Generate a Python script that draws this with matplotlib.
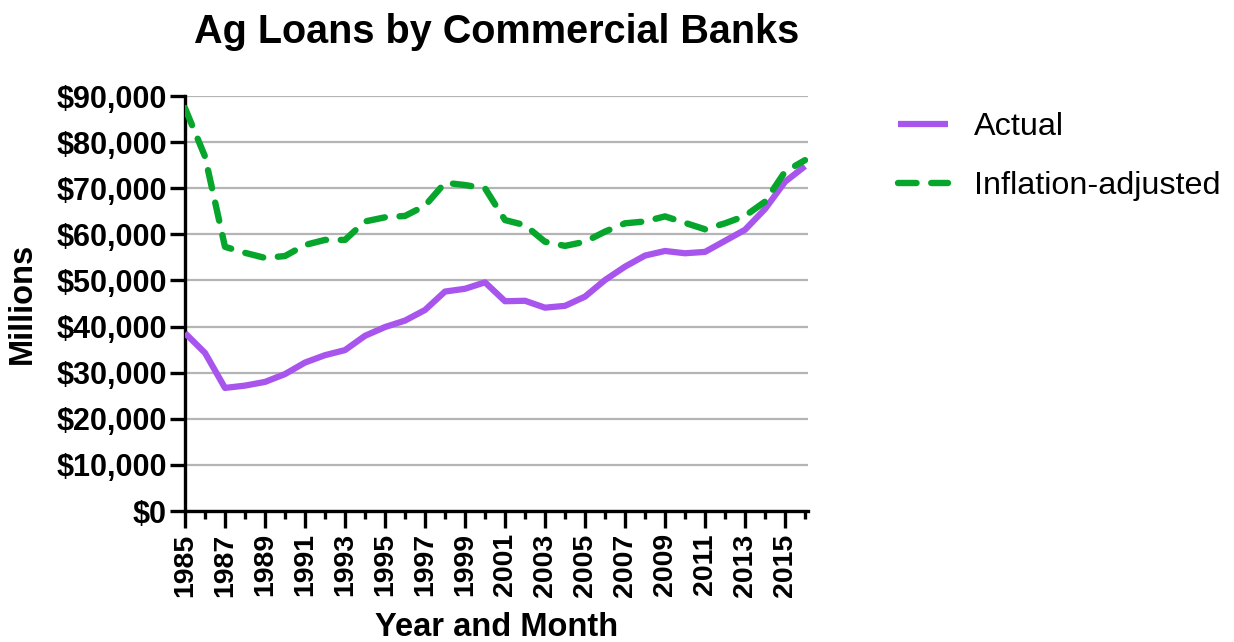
#!/usr/bin/env python3

import matplotlib

matplotlib.use("Agg")

import matplotlib.pyplot as plt
from matplotlib.ticker import FuncFormatter, MultipleLocator


OUTPUT_PNG = "out.png"

TITLE = "Ag Loans by Commercial Banks"
X_LABEL = "Year and Month"
Y_LABEL = "Millions"

YEARS = list(range(1985, 2017))

ACTUAL = [
    38600, 34300, 26700, 27200, 28000, 29700, 32200, 33800,
    34900, 38000, 39900, 41300, 43600, 47600, 48200, 49600,
    45500, 45600, 44100, 44500, 46500, 50100, 53000, 55400,
    56400, 55900, 56200, 58600, 61000, 65500, 71400, 74800,
]

INFLATION_ADJUSTED = [
    87400, 76900, 57300, 56000, 54900, 55300, 57700, 58800,
    58800, 62800, 63700, 64000, 66200, 71200, 70700, 70000,
    63100, 62000, 58400, 57500, 58400, 60600, 62400, 62800,
    63900, 62500, 61100, 62400, 64000, 67100, 73600, 76100,
]

SERIES_LABELS = [
    "Actual",
    "Inflation-adjusted",
]

PURPLE = "#A855EE"
GREEN = "#06A52C"
GRID_GRAY = "#B4B4B4"


def create_plot() -> None:
    plt.rcParams["font.family"] = ["Liberation Sans", "DejaVu Sans"]

    figure = plt.figure(
        figsize=(12.34, 6.42),
        dpi=100,
    )

    axis = figure.add_axes(
        [0.1499, 0.2040, 0.5049, 0.6464]
    )

    axis.plot(
        YEARS,
        ACTUAL,
        color=PURPLE,
        linewidth=4.5,
        solid_capstyle="butt",
        solid_joinstyle="round",
        label=SERIES_LABELS[0],
        zorder=3,
    )

    axis.plot(
        YEARS,
        INFLATION_ADJUSTED,
        color=GREEN,
        linewidth=4.6,
        linestyle=(0, (2.9, 2.3)),
        dash_capstyle="round",
        label=SERIES_LABELS[1],
        zorder=4,
    )

    axis.set_xlim(1985, 2016.15)
    axis.set_ylim(0, 90000)

    axis.yaxis.set_major_locator(MultipleLocator(10000))
    axis.yaxis.set_major_formatter(
        FuncFormatter(lambda value, position: f"\\${value:,.0f}")
    )

    axis.set_xticks(YEARS[::2])
    axis.set_xticks(YEARS, minor=True)
    axis.set_xticklabels(
        [str(year) for year in YEARS[::2]],
        rotation=90,
        fontsize=20.5,
        fontweight="bold",
    )

    for label in axis.get_yticklabels():
        label.set_fontsize(22)
        label.set_fontweight("bold")

    axis.tick_params(
        axis="y",
        direction="out",
        length=11,
        width=2.4,
        pad=2,
        colors="black",
    )
    axis.tick_params(
        axis="x",
        which="major",
        direction="out",
        length=12,
        width=2.4,
        pad=4,
    )
    axis.tick_params(
        axis="x",
        which="minor",
        direction="out",
        length=6,
        width=2.4,
    )

    axis.grid(
        axis="y",
        color=GRID_GRAY,
        linewidth=1.6,
        zorder=0,
    )
    axis.set_axisbelow(True)

    axis.spines["top"].set_visible(False)
    axis.spines["right"].set_visible(False)
    axis.spines["left"].set_linewidth(2.4)
    axis.spines["bottom"].set_linewidth(2.4)

    axis.set_title(
        TITLE,
        fontsize=28.5,
        fontweight="bold",
        pad=38,
    )

    figure.text(
        497 / 1234,
        1 - 628 / 642,
        X_LABEL,
        ha="center",
        va="center",
        fontsize=23.5,
        fontweight="bold",
    )

    figure.text(
        22 / 1234,
        1 - 303 / 642,
        Y_LABEL,
        ha="center",
        va="center",
        rotation=90,
        fontsize=23.5,
        fontweight="bold",
    )

    handles, labels = axis.get_legend_handles_labels()

    figure.legend(
        handles,
        labels,
        loc="upper left",
        bbox_to_anchor=(898 / 1234, 1 - 112 / 642),
        frameon=False,
        fontsize=23.3,
        handlelength=1.55,
        handletextpad=0.8,
        labelspacing=0.9,
        borderpad=0,
        borderaxespad=0,
    )

    figure.savefig(OUTPUT_PNG, dpi=100)
    plt.close(figure)


def main() -> None:
    create_plot()


if __name__ == "__main__":
    main()
